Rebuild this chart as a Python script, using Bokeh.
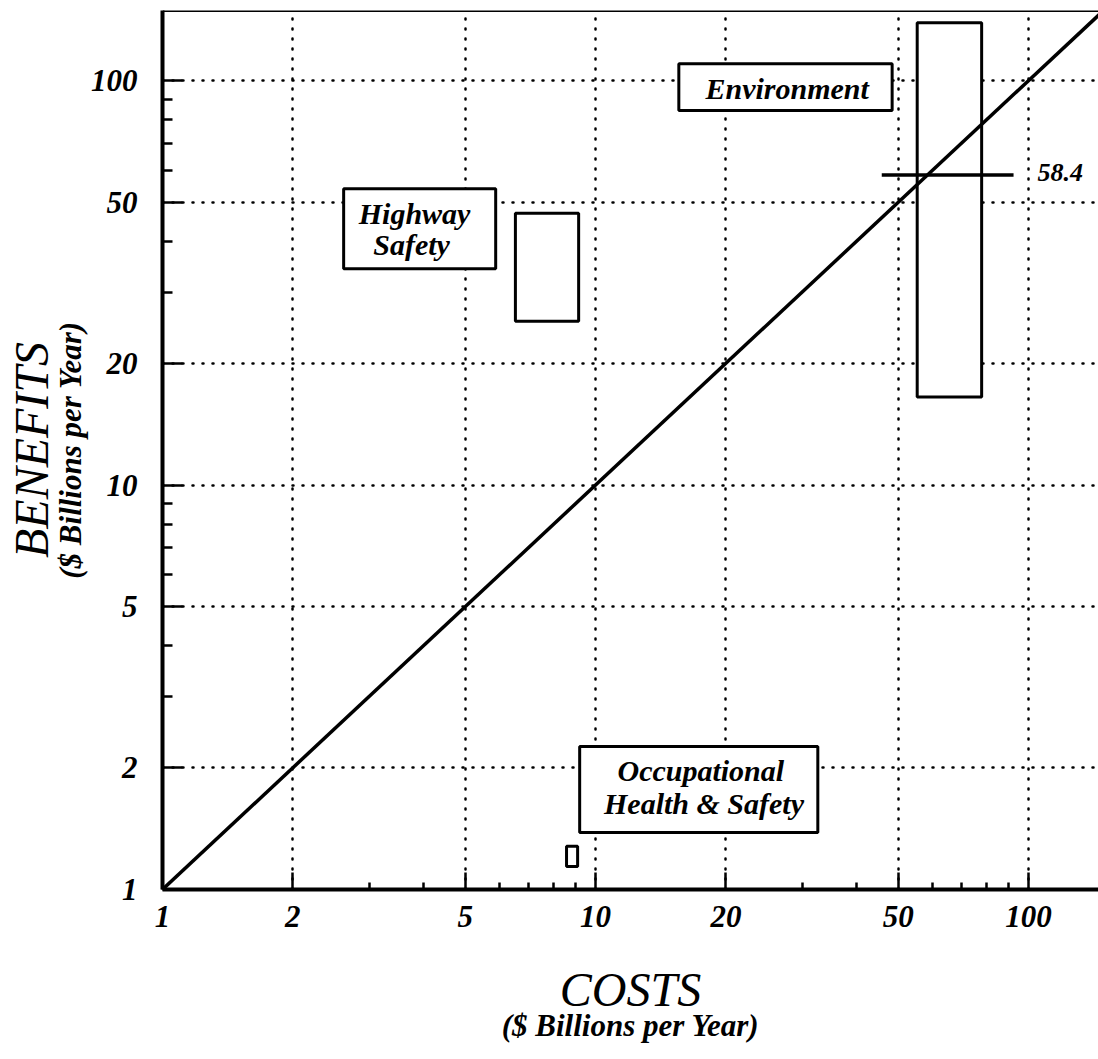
from bokeh.plotting import figure
from bokeh.models import FixedTicker, Span, ColumnDataSource, LogAxis
from bokeh.embed import file_html
from bokeh.resources import INLINE
from bokeh.core.properties import value

# ---------------- data ----------------
major_ticks = [1, 2, 5, 10, 20, 50, 100]
minor_ticks = [3, 4, 6, 7, 8, 9, 30, 40, 60, 70, 80, 90]
tick_labels = ["1", "2", "5", "10", "20", "50", "100"]

programs = ["Highway Safety", "Environment", "Occupational Health & Safety"]
cost_low = [6.53, 55.3, 8.57]
cost_high = [9.14, 77.9, 9.09]
benefit_low = [25.4, 16.5, 1.14]
benefit_high = [47.0, 139.0, 1.28]

env_point_value = 58.4
env_point_label = "58.4"
env_point_cost = [45.8, 92.3]

parity_cost = [1, 150]
parity_benefit = [1, 150]

# callout boxes (annotation layout)
callout_left = [2.62, 15.57, 9.19]
callout_right = [5.88, 48.4, 32.6]
callout_bottom = [34.24, 84.3, 1.383]
callout_top = [54.0, 110.0, 2.257]
callout_lines = ["Highway", "Safety", "Environment", "Occupational", "Health & Safety"]
callout_x = [3.82, 3.76, 27.7, 17.5, 17.8]
callout_y = [47.0, 39.4, 95.5, 1.97, 1.63]

x_title = "COSTS"
y_title = "BENEFITS"
unit_title = "($ Billions per Year)"

FONT = "Liberation Serif"

p = figure(width=1098, height=1059, x_axis_type="log", y_axis_type="log",
           x_range=(1, 145), y_range=(1, 149),
           output_backend="svg", toolbar_location=None,
           min_border_left=162, min_border_right=0, min_border_top=10,
           min_border_bottom=170)
p.outline_line_color = None
p.background_fill_color = "white"
p.border_fill_color = "white"

overrides = {t: l for t, l in zip(major_ticks, tick_labels)}
for ax in (p.xaxis[0], p.yaxis[0]):
    ax.ticker = FixedTicker(ticks=major_ticks, minor_ticks=minor_ticks)
    ax.major_label_overrides = overrides
    ax.axis_line_width = 4
    ax.axis_line_color = "black"
    ax.major_tick_out = 0
    ax.minor_tick_out = 0
    ax.major_tick_line_width = 2.5
    ax.minor_tick_line_width = 2.5
    ax.major_tick_line_color = "black"
    ax.minor_tick_line_color = "black"
    ax.major_label_text_font = FONT
    ax.major_label_text_font_style = "bold italic"
    ax.major_label_text_font_size = "31px"
    ax.major_label_text_color = "black"

p.yaxis[0].major_tick_in = 20
p.yaxis[0].minor_tick_in = 10
p.yaxis[0].major_label_standoff = 25
p.xaxis[0].major_tick_in = 17
p.xaxis[0].minor_tick_in = 7
p.xaxis[0].major_label_standoff = 16

# first-level axis titles
p.xaxis[0].axis_label = x_title
p.xaxis[0].axis_label_text_font = FONT
p.xaxis[0].axis_label_text_font_style = "italic"
p.xaxis[0].axis_label_text_font_size = "48px"
p.xaxis[0].axis_label_text_color = "black"
p.xaxis[0].axis_label_standoff = 33

p.yaxis[0].axis_label = unit_title
p.yaxis[0].axis_label_text_font = FONT
p.yaxis[0].axis_label_text_font_style = "bold italic"
p.yaxis[0].axis_label_text_font_size = "31px"
p.yaxis[0].axis_label_text_color = "black"
p.yaxis[0].axis_label_standoff = 0


def title_axis(label, size, style, standoff):
    a = LogAxis(ticker=FixedTicker(ticks=[]), axis_label=label,
                axis_line_color=None, major_tick_line_color=None,
                minor_tick_line_color=None, major_label_text_font_size="0px",
                axis_label_text_font=FONT, axis_label_text_font_style=style,
                axis_label_text_font_size=size, axis_label_text_color="black",
                axis_label_standoff=standoff, major_tick_in=0, major_tick_out=0,
                minor_tick_in=0, minor_tick_out=0, major_label_standoff=0)
    return a


p.add_layout(title_axis(unit_title, "31px", "bold italic", -11), "below")
p.add_layout(title_axis(y_title, "48px", "italic", -8), "left")

for g in (p.xgrid[0], p.ygrid[0]):
    g.ticker = FixedTicker(ticks=major_ticks)
    g.grid_line_color = "black"
    g.grid_line_width = 2.5
    g.grid_line_dash = "1 9"
    g.grid_line_cap = "round"

# top border
p.add_layout(Span(location=149, dimension="width", line_color="black", line_width=3))

# program ranges
src = ColumnDataSource(dict(left=cost_low, right=cost_high, bottom=benefit_low, top=benefit_high, name=programs))
p.quad(left="left", right="right", bottom="bottom", top="top", source=src,
       fill_color="white", line_color="black", line_width=3)

# parity line
p.line(parity_cost, parity_benefit, line_color="black", line_width=3.5)

# environment point estimate
p.line(env_point_cost, [env_point_value, env_point_value], line_color="black", line_width=3.5)
p.text(x=[104.9], y=[env_point_value], text=[env_point_label], text_font=value(FONT),
       text_font_style="bold italic", text_font_size="26px", text_align="left",
       text_baseline="middle", text_color="black", y_offset=-3)

# callouts
p.quad(left=callout_left, right=callout_right, bottom=callout_bottom, top=callout_top,
       fill_color="white", line_color="black", line_width=3)
p.text(x=callout_x, y=callout_y, text=callout_lines, text_font=value(FONT),
       text_font_style="bold italic", text_font_size="30px", text_align="center",
       text_baseline="middle", text_color="black")

open("out.html", "w").write(file_html(p, INLINE))
